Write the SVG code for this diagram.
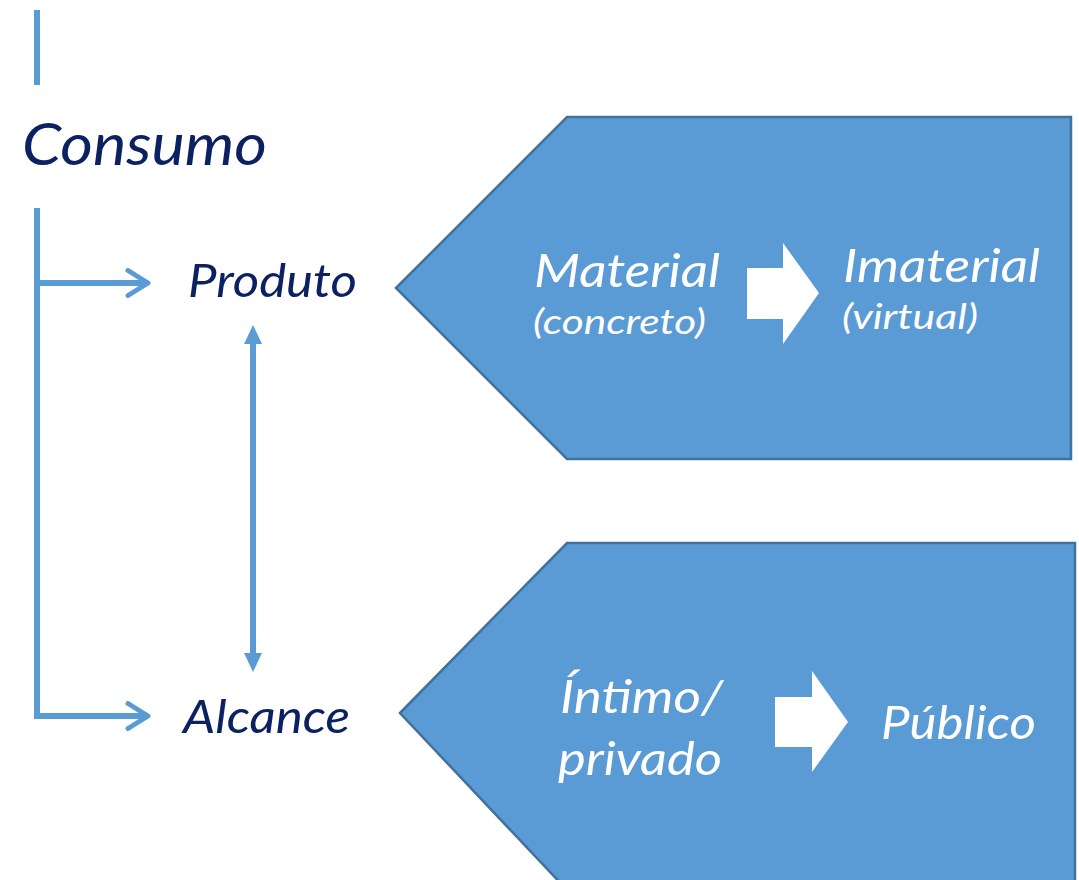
<svg xmlns="http://www.w3.org/2000/svg" width="1079" height="880" viewBox="0 0 1079 880">
<style>
.dark{font-family:Lato,"Liberation Sans",sans-serif;font-style:italic;fill:#0B2161}
.wt{font-family:Lato,"Liberation Sans",sans-serif;font-style:italic;fill:#FFFFFF}
.ln{stroke:#5B9BD5;stroke-width:6;fill:none}
.head{fill:#5B9BD5}
.pent{fill:#5B9BD5;stroke:#41719C;stroke-width:2.5}
.warr{fill:#FFFFFF}
</style>
<defs>
<marker id="open" viewBox="0 0 12 12" refX="10" refY="6" markerWidth="30" markerHeight="30" markerUnits="userSpaceOnUse" orient="auto">
<path d="M2,1 L10,6 L2,11" fill="none" stroke="#5B9BD5" stroke-width="2" stroke-linecap="round" stroke-linejoin="round"/>
</marker>
</defs>
<g id="connectors">
<line class="ln" x1="37" y1="10" x2="37" y2="85"/>
<line class="ln" x1="37" y1="208" x2="37" y2="719"/>
<line class="ln" x1="37" y1="283" x2="148" y2="283" marker-end="url(#open)"/>
<line class="ln" x1="37" y1="716" x2="148" y2="716" marker-end="url(#open)"/>
<line class="ln" x1="253" y1="340" x2="253" y2="657"/>
<polygon class="head" points="253,325 244,344 262,344"/>
<polygon class="head" points="253,672 244,653 262,653"/>
</g>
<g id="consumo">
<text class="dark" x="22" y="165" font-size="58" textLength="245" lengthAdjust="spacingAndGlyphs">Consumo</text>
</g>
<g id="produto">
<text class="dark" x="188" y="297" font-size="46" textLength="169" lengthAdjust="spacingAndGlyphs">Produto</text>
</g>
<g id="alcance">
<text class="dark" x="183" y="733" font-size="46" textLength="167" lengthAdjust="spacingAndGlyphs">Alcance</text>
</g>
<g id="produto-box">
<polygon class="pent" points="396,288 567,117 1071,117 1071,459 567,459"/>
<text class="wt" x="534" y="287" font-size="47" textLength="186" lengthAdjust="spacingAndGlyphs">Material</text>
<text class="wt" x="533" y="334" font-size="35" textLength="173" lengthAdjust="spacingAndGlyphs">(concreto)</text>
<polygon class="warr" points="747,268 783,268 783,243 819,293 783,344 783,319 747,319"/>
<text class="wt" x="843" y="282" font-size="47" textLength="197" lengthAdjust="spacingAndGlyphs">Imaterial</text>
<text class="wt" x="842" y="329" font-size="35" textLength="136" lengthAdjust="spacingAndGlyphs">(virtual)</text>
</g>
<g id="alcance-box">
<polygon class="pent" points="400,713 567,543 1075,543 1075,890 567,890"/>
<text class="wt" x="560" y="713" font-size="47" textLength="163" lengthAdjust="spacingAndGlyphs">Íntimo/</text>
<text class="wt" x="558" y="775" font-size="47" textLength="164" lengthAdjust="spacingAndGlyphs">privado</text>
<polygon class="warr" points="775,697 812,697 812,671 848,722 812,772 812,747 775,747"/>
<text class="wt" x="881" y="739" font-size="47" textLength="155" lengthAdjust="spacingAndGlyphs">Público</text>
</g>
</svg>
